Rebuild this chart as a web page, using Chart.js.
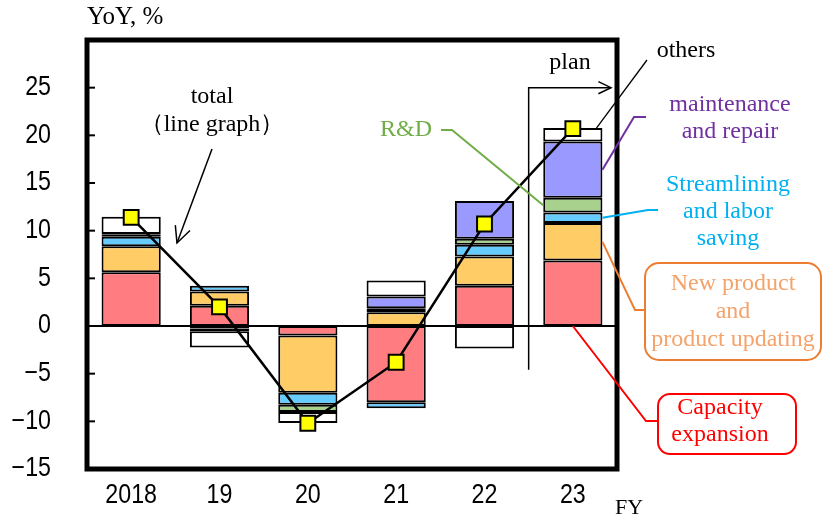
<!DOCTYPE html>
<html>
<head>
<meta charset="utf-8">
<script src="https://cdn.jsdelivr.net/npm/chart.js@4"></script>
<style>
  html, body { margin: 0; padding: 0; background: #fff; }
  #wrap { width: 822px; height: 517px; }
</style>
</head>
<body>
<div id="wrap"><canvas id="c" width="822" height="517"></canvas></div>
<script>
// Fiscal years and year-on-year contributions (percentage points) by purpose
const categories = ['2018', '19', '20', '21', '22', '23'];
const capacityExpansion = [5.65, 2.13, -1.0, -8.0, 4.22, 6.86];
const newProduct = [2.71, 1.5, -6.0, 1.44, 3.06, 3.94];
const streamlining = [1.0, 0.6, -1.27, -0.63, 1.23, 1.1];
const researchDev = [0.2, -0.25, -0.75, 0.42, 0.63, 1.54];
const maintenance = [0.1, -0.3, null, 1.23, 3.97, 5.91];
const others = [1.8, -1.7, -1.15, 1.69, -2.35, 1.41];
const total = [11.4, 2.0, -10.2, -3.8, 10.7, 20.7];
const yTicks = [-15, -10, -5, 0, 5, 10, 15, 20, 25];

const NUM_FONT = "'Liberation Sans', Arial, sans-serif";
const SERIF = "'Liberation Serif', 'Times New Roman', serif";

function barSeries(label, data, color) {
  return {
    type: 'bar', label, data,
    backgroundColor: color,
    borderColor: '#000',
    borderWidth: 2,
    borderSkipped: false,
    categoryPercentage: 1,
    barPercentage: 0.67,
    stack: 'parts',
    order: 1
  };
}

function arrowHead(ctx, x1, y1, x2, y2, len) {
  const a = Math.atan2(y2 - y1, x2 - x1);
  const s = 0.45;
  ctx.beginPath();
  ctx.moveTo(x2 - len * Math.cos(a - s), y2 - len * Math.sin(a - s));
  ctx.lineTo(x2, y2);
  ctx.lineTo(x2 - len * Math.cos(a + s), y2 - len * Math.sin(a + s));
  ctx.stroke();
}

function poly(ctx, pts, color, width) {
  ctx.save();
  ctx.strokeStyle = color;
  ctx.lineWidth = width;
  ctx.beginPath();
  ctx.moveTo(pts[0][0], pts[0][1]);
  for (let i = 1; i < pts.length; i++) ctx.lineTo(pts[i][0], pts[i][1]);
  ctx.stroke();
  ctx.restore();
}

function lines(ctx, list, x, y0, step, color, size) {
  ctx.save();
  ctx.fillStyle = color;
  ctx.font = size + 'px ' + SERIF;
  ctx.textAlign = 'center';
  ctx.textBaseline = 'middle';
  list.forEach((t, i) => ctx.fillText(t, x, y0 + i * step));
  ctx.restore();
}

// tall, narrow numerals for the axis labels
function numLabel(ctx, text, x, y, align) {
  ctx.save();
  ctx.translate(x, y);
  ctx.scale(0.86, 1);
  ctx.fillStyle = '#000';
  ctx.font = '27px ' + NUM_FONT;
  ctx.textAlign = align;
  ctx.textBaseline = 'middle';
  ctx.fillText(text, 0, 0);
  ctx.restore();
}

function roundBox(ctx, x, y, w, h, r, color) {
  ctx.save();
  ctx.strokeStyle = color;
  ctx.lineWidth = 2;
  ctx.beginPath();
  ctx.roundRect(x, y, w, h, r);
  ctx.stroke();
  ctx.restore();
}

const decorations = {
  id: 'decorations',
  beforeDatasetsDraw(chart) {
    const { ctx, chartArea: a, scales: { y } } = chart;
    // zero line
    const y0 = y.getPixelForValue(0);
    poly(ctx, [[a.left, y0], [a.right, y0]], '#000', 2);
  },
  afterDraw(chart) {
    const { ctx, chartArea: a, scales: { x, y } } = chart;
    ctx.save();
    // value axis: inner tick marks and labels
    yTicks.forEach(v => {
      const py = y.getPixelForValue(v);
      poly(ctx, [[a.left, py], [a.left + 8, py]], '#000', 2);
      numLabel(ctx, String(v).replace('-', '\u2212'), 51, py, 'right');
    });
    // category labels
    categories.forEach((c, i) => {
      numLabel(ctx, c, x.getPixelForValue(i), 496, 'center');
    });
    // plot frame
    ctx.strokeStyle = '#000';
    ctx.lineWidth = 5;
    ctx.strokeRect(a.left, a.top, a.right - a.left, a.bottom - a.top);

    // axis titles
    ctx.fillStyle = '#000';
    ctx.font = '25px ' + SERIF;
    ctx.textAlign = 'left';
    ctx.textBaseline = 'middle';
    ctx.fillText('YoY, %', 87, 17);
    ctx.font = '22px ' + SERIF;
    ctx.fillText('FY', 615, 508);

    // segment helpers for the last (plan) year
    const seg = (i) => chart.getDatasetMeta(i).data[5];
    const right = (e) => e.x + e.width / 2;
    const left = (e) => e.x - e.width / 2;
    const mid = (e) => (e.y + e.base) / 2;

    // plan bracket
    const xb = (x.getPixelForValue(4) + x.getPixelForValue(5)) / 2;
    const yp = y.getPixelForValue(25);
    ctx.strokeStyle = '#000';
    ctx.lineWidth = 1.5;
    poly(ctx, [[xb, y.getPixelForValue(-4.6)], [xb, yp], [a.right - 6, yp]], '#000', 1.5);
    arrowHead(ctx, xb, yp, a.right - 6, yp, 14);
    lines(ctx, ['plan'], 570, 63, 0, '#000', 24);

    // total (line graph)
    lines(ctx, ['total', '（line graph）'], 212, 97, 28, '#000', 24);
    poly(ctx, [[212, 149], [177, 243]], '#000', 1.5);
    ctx.strokeStyle = '#000';
    ctx.lineWidth = 1.5;
    arrowHead(ctx, 212, 149, 177, 243, 18);

    // others
    const eO = seg(6);
    lines(ctx, ['others'], 686, 51, 0, '#000', 24);
    poly(ctx, [[647, 60], [right(eO) - 6, eO.y]], '#000', 1.3);

    // maintenance and repair
    const eM = seg(5);
    lines(ctx, ['maintenance', 'and repair'], 730, 105, 27, '#7030A0', 24);
    poly(ctx, [[646, 117], [634, 117], [right(eM), mid(eM)]], '#7030A0', 2);

    // streamlining and labor saving
    const eS = seg(3);
    lines(ctx, ['Streamlining', 'and labor', 'saving'], 728, 185, 27, '#00B0F0', 24);
    poly(ctx, [[658, 210], [648, 210], [right(eS), mid(eS)]], '#00B0F0', 2);

    // R&D
    const eR = seg(4);
    lines(ctx, ['R&D'], 406, 130, 0, '#70AD47', 24);
    poly(ctx, [[441, 130], [452, 130], [left(eR), mid(eR)]], '#70AD47', 2);

    // new product and product updating
    const eN = seg(2);
    roundBox(ctx, 645, 263, 176, 97, 14, '#ED7D31');
    lines(ctx, ['New product', 'and', 'product updating'], 733, 284, 28, '#F4A36B', 24);
    poly(ctx, [[right(eN), mid(eN)], [635, 310], [645, 310]], '#ED7D31', 2);

    // capacity expansion
    const eC = seg(1);
    roundBox(ctx, 658, 394, 138, 60, 12, '#FF0000');
    lines(ctx, ['Capacity', 'expansion'], 720, 408, 27, '#FF0000', 24);
    poly(ctx, [[eC.x, eC.base], [646, 421], [658, 421]], '#FF0000', 2);

    ctx.restore();
  }
};

new Chart(document.getElementById('c'), {
  data: {
    labels: categories,
    datasets: [
      {
        type: 'line', label: 'total', data: total,
        borderColor: '#000', borderWidth: 2.5,
        pointStyle: 'rect', pointRadius: 10.5,
        pointBackgroundColor: '#FFFF00', pointBorderColor: '#000', pointBorderWidth: 2,
        tension: 0, fill: false, stack: 'line', order: 0
      },
      barSeries('Capacity expansion', capacityExpansion, '#FF7C80'),
      barSeries('New product and product updating', newProduct, '#FFCC66'),
      barSeries('Streamlining and labor saving', streamlining, '#66CCFF'),
      barSeries('R&D', researchDev, '#A9D18E'),
      barSeries('maintenance and repair', maintenance, '#9999FF'),
      barSeries('others', others, '#FFFFFF')
    ]
  },
  options: {
    responsive: false,
    animation: false,
    devicePixelRatio: 1,
    layout: { padding: { top: 40, right: 205, left: 0, bottom: 0 } },
    plugins: { legend: { display: false }, tooltip: { enabled: false } },
    scales: {
      x: {
        stacked: true,
        grid: { display: false, drawTicks: false },
        border: { display: false },
        ticks: { display: false },
        afterFit(s) { s.height = 48; s.paddingLeft = 0; s.paddingRight = 0; }
      },
      y: {
        stacked: true,
        min: -15, max: 30,
        grid: { display: false, drawTicks: false },
        border: { display: false },
        ticks: { stepSize: 5, display: false },
        afterFit(s) { s.width = 87; s.paddingTop = 0; s.paddingBottom = 0; }
      }
    }
  },
  plugins: [decorations]
});
</script>
</body>
</html>
